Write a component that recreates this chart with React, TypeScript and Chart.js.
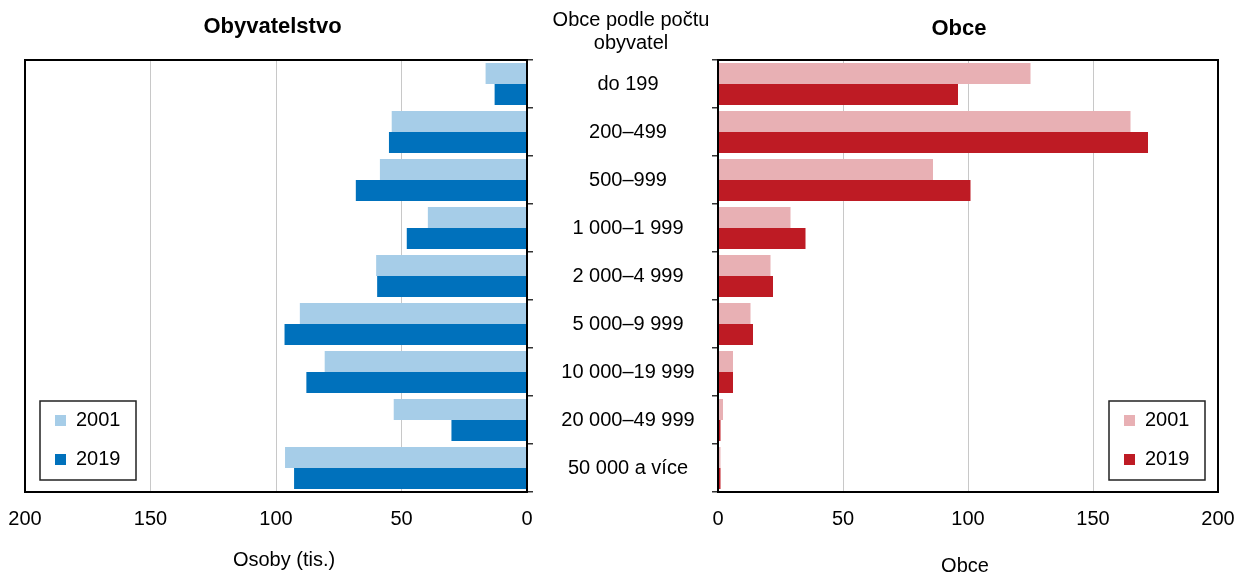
import { useEffect, useRef } from "react";
import { Chart, registerables } from "chart.js";

Chart.register(...registerables);

const FONT = '"Liberation Sans", Arial, Helvetica, sans-serif';

const categories = [
  "do 199",
  "200–499",
  "500–999",
  "1 000–1 999",
  "2 000–4 999",
  "5 000–9 999",
  "10 000–19 999",
  "20 000–49 999",
  "50 000 a více",
];
const seriesLabels = ["2001", "2019"];
const population2001 = [16.5, 53.9, 58.6, 39.5, 60.1, 90.5, 80.6, 53.1, 96.4];
const population2019 = [12.9, 55.0, 68.2, 47.9, 59.7, 96.6, 87.9, 30.1, 92.8];
const municipalities2001 = [125, 165, 86, 29, 21, 13, 6, 2, 1];
const municipalities2019 = [96, 172, 101, 35, 22, 14, 6, 1, 1];
const axisMin = 0;
const axisMax = 200;
const axisStep = 50;
const middleHeader = ["Obce podle počtu", "obyvatel"];

const framePlugin = {
  id: "frame",
  afterDatasetsDraw(chart: any) {
    const { ctx, chartArea: a } = chart;
    ctx.save();
    ctx.strokeStyle = "#000";
    ctx.lineWidth = 2;
    ctx.strokeRect(a.left, a.top, a.right - a.left, a.bottom - a.top);
    ctx.restore();
  },
};

const panelTextPlugin = {
  id: "panelText",
  afterDraw(chart: any, _args: any, opts: any) {
    const { ctx, chartArea: a } = chart;
    const cx = (a.left + a.right) / 2;
    ctx.save();
    ctx.fillStyle = "#000";
    ctx.textAlign = "center";
    ctx.textBaseline = "middle";
    ctx.font = `bold 22px ${FONT}`;
    ctx.fillText(opts.title, cx + opts.titleDx, opts.titleY);
    ctx.font = `20px ${FONT}`;
    ctx.fillText(opts.axisTitle, cx + opts.axisDx, chart.scales.x.bottom - opts.axisFromBottom);
    ctx.restore();
  },
};

const boxLegendPlugin = {
  id: "boxLegend",
  afterDraw(chart: any, _args: any, opts: any) {
    const { ctx, chartArea: a } = chart;
    const w = opts.width;
    const h = opts.height;
    const left = opts.side === "left" ? a.left + opts.inset : a.right - opts.inset - w;
    const top = a.bottom - opts.bottomInset - h;
    ctx.save();
    ctx.fillStyle = "#fff";
    ctx.fillRect(left, top, w, h);
    ctx.strokeStyle = "#222";
    ctx.lineWidth = 1.5;
    ctx.strokeRect(left, top, w, h);
    ctx.font = `20px ${FONT}`;
    ctx.textBaseline = "middle";
    ctx.textAlign = "left";
    chart.data.datasets.forEach((ds: any, i: number) => {
      const cy = top + opts.firstRow + i * opts.rowGap;
      ctx.fillStyle = ds.backgroundColor;
      ctx.fillRect(left + opts.swatchX, cy - 5.5, 11, 11);
      ctx.fillStyle = "#000";
      ctx.fillText(ds.label, left + opts.textX, cy);
    });
    ctx.restore();
  },
};

const categoryLabelsPlugin = {
  id: "categoryLabels",
  afterDraw(chart: any, _args: any, opts: any) {
    const { ctx } = chart;
    const yScale = chart.scales.y;
    ctx.save();
    ctx.font = `20px ${FONT}`;
    ctx.fillStyle = "#000";
    ctx.textAlign = "center";
    ctx.textBaseline = "middle";
    chart.data.labels.forEach((lab: string, i: number) => {
      ctx.fillText(lab, opts.x, yScale.getPixelForValue(i));
    });
    opts.header.forEach((line: string, i: number) => {
      ctx.fillText(line, opts.headerX, opts.headerY + i * opts.headerGap);
    });
    ctx.restore();
  },
};

function makeConfig(side: "left" | "right"): any {
  const isLeft = side === "left";
  const data1 = isLeft ? population2001 : municipalities2001;
  const data2 = isLeft ? population2019 : municipalities2019;
  const colors = isLeft ? ["#A6CDE8", "#0071BC"] : ["#E8B0B4", "#BE1B24"];
  const plugins: any[] = [framePlugin, panelTextPlugin, boxLegendPlugin];
  if (isLeft) plugins.push(categoryLabelsPlugin);
  const xHeight = isLeft ? 80 : 86;
  return {
    type: "bar",
    data: {
      labels: categories,
      datasets: [
        { label: seriesLabels[0], data: data1, backgroundColor: colors[0], borderWidth: 0 },
        { label: seriesLabels[1], data: data2, backgroundColor: colors[1], borderWidth: 0 },
      ],
    },
    plugins,
    options: {
      indexAxis: "y",
      animation: false,
      responsive: false,
      maintainAspectRatio: false,
      devicePixelRatio: 1,
      layout: {
        padding: isLeft
          ? { left: 45, right: 187, top: 60, bottom: 0 }
          : { left: 32, right: 38, top: 60, bottom: 0 },
      },
      datasets: { bar: { categoryPercentage: 0.875, barPercentage: 1 } },
      scales: {
        x: {
          type: "linear",
          min: axisMin,
          max: axisMax,
          reverse: isLeft,
          afterFit: (scale: any) => {
            scale.height = xHeight;
          },
          ticks: {
            stepSize: axisStep,
            padding: 15,
            color: "#000",
            maxRotation: 0,
            font: { size: 20, family: FONT },
          },
          grid: { color: "#c8c8c8", lineWidth: 1, drawTicks: false },
          border: { display: false },
          title: { display: false },
        },
        y: {
          type: "category",
          position: isLeft ? "right" : "left",
          offset: true,
          ticks: { display: false },
          grid: {
            offset: true,
            drawOnChartArea: false,
            drawTicks: true,
            tickLength: 6,
            color: "#333",
            lineWidth: 1.5,
          },
          border: { display: false },
        },
      },
      plugins: {
        legend: { display: false },
        title: { display: false },
        tooltip: { enabled: false },
        panelText: {
          title: isLeft ? "Obyvatelstvo" : "Obce",
          titleDx: isLeft ? -3.5 : -9,
          titleY: isLeft ? 27 : 29,
          axisTitle: isLeft ? "Osoby (tis.)" : "Obce",
          axisDx: isLeft ? 8 : -3,
          axisFromBottom: 12,
        },
        boxLegend: {
          side,
          inset: isLeft ? 15 : 13,
          bottomInset: 12,
          width: 96,
          height: 79,
          swatchX: 15,
          textX: 36,
          firstRow: 19.5,
          rowGap: 39,
        },
        categoryLabels: {
          x: 648,
          header: middleHeader,
          headerX: 651,
          headerY: 20,
          headerGap: 23,
        },
      },
    },
  };
}

function Panel({ side, left, width, height }: { side: "left" | "right"; left: number; width: number; height: number }) {
  const ref = useRef<HTMLCanvasElement | null>(null);
  useEffect(() => {
    if (!ref.current) return;
    const chart = new Chart(ref.current, makeConfig(side));
    return () => chart.destroy();
  }, [side]);
  return (
    <canvas
      ref={ref}
      width={width}
      height={height}
      style={{ position: "absolute", left, top: 0, width, height, display: "block" }}
    />
  );
}

export default function App() {
  Chart.defaults.color = "#000";
  Chart.defaults.font.family = FONT;
  return (
    <div
      style={{
        position: "absolute",
        left: 0,
        top: 0,
        width: 1236,
        height: 572,
        overflow: "hidden",
        background: "#fff",
      }}
    >
      <Panel side="left" left={-20} width={740} height={572} />
      <Panel side="right" left={680} width={576} height={578} />
    </div>
  );
}
